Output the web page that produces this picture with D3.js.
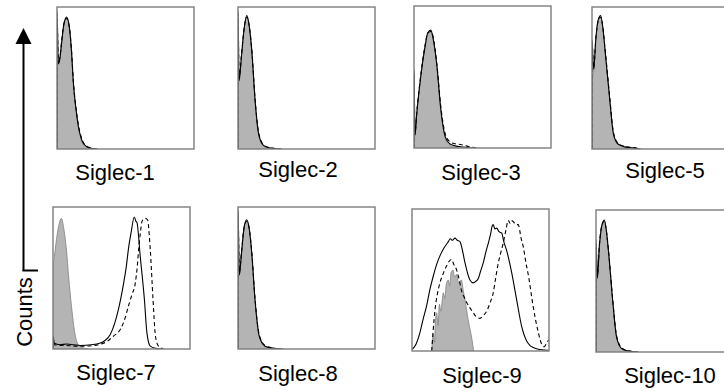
<!DOCTYPE html>
<html>
<head>
<meta charset="utf-8">
<script src="https://cdn.jsdelivr.net/npm/d3@7"></script>
<style>
  body { margin: 0; background: #fff; }
  text { font-family: "Liberation Sans", Arial, sans-serif; }
</style>
</head>
<body>
<div id="container"></div>
<script>
// panel names, in reading order
var labels = ["Siglec-1", "Siglec-2", "Siglec-3", "Siglec-5",
              "Siglec-7", "Siglec-8", "Siglec-9", "Siglec-10"];

// histograms as [fluorescence %, counts % of max]
// isotype control (grey fill)
var isotype = [
  [[0,58],[1,60],[2,64],[3.5,75],[5,87],[7,92],[9,85],[10.5,69],[12,45],[14,26],[15.6,15],[17.5,7],[19.2,3],[22,1],[25,0.3],[29,0]],
  [[0,48],[1,50],[2.5,65],[4.5,85],[6.4,93],[8,87],[10,69],[12.5,33],[15,10],[18,2.5],[22,0.8],[30,0]],
  [[0,52],[0.7,9],[2,24],[4.4,46],[8,71],[10,80],[12.3,82],[14,76],[16.7,57],[19.6,26],[22.8,7],[26,2],[30,0.5],[36,0]],
  [[0,48],[1.2,55],[2.9,78],[4.5,90],[6.3,93],[8,84],[9.5,69],[13,34],[15.6,10],[19,3],[25,1],[33,0]],
  [[0,58],[1,65],[2.5,77],[4.5,88],[6.1,92],[8,84],[9.8,70],[11.5,50],[13.5,30],[16,11],[18.4,3],[22,0.8],[26,0]],
  [[0,51],[1,53],[2.5,66],[4.5,85],[6.3,90],[8,85],[10,68],[12.4,34],[15.5,9],[19.7,2],[24,0.6],[31,0]],
  [[14.4,0],[15.5,12],[16.5,6],[17,20],[18,27],[19,18],[20,33],[21,28],[22.9,41],[24,37],[25,47],[26.5,50],[27.5,46],[28.5,55],[30,57],[31,52],[32.6,54],[34,48],[36,50],[37.5,42],[38.7,36],[41,22],[43.8,8],[45,0]],
  [[0,50],[1,56],[2.5,75],[4.5,89],[6.1,92],[7.5,85],[9,72],[12.2,36],[15,10.5],[18.7,2.4],[23,0.6],[30,0]]
];

// first antibody (solid line)
var solid = [
  [[0,0],[0,97],[1,60],[2,63],[3.5,76],[5,88],[7,93],[9,86],[10.5,70],[12,46],[14,27],[15.6,16],[17.5,8],[19.2,4],[22,1.5],[25,0.5],[29,0]],
  [[0,0],[0,97],[0.8,48],[2.5,65],[4.5,85],[6.4,94],[8,88],[10,70],[12.5,34],[15,11],[18.6,2.5],[22,1],[31,0]],
  [[0,0],[0,55],[0.7,9],[2,24],[4.4,46],[8,71],[10,81],[12.3,83],[14,77],[16.7,58],[19.6,27],[22.8,8],[26,3],[30,1.5],[36,0.7],[43,0]],
  [[0,0],[0,77],[1.2,56],[2.9,79],[4.5,91],[6.3,94],[8,85],[9.5,70],[13,34.5],[15.6,11],[19,3.5],[24,1.5],[30,0.8],[35,0]],
  [[0,0],[0,9],[1,4],[5,3],[10,3.5],[15,3],[20,2.5],[28,3],[34,4],[38,6],[41.7,10],[45,18],[47.8,28],[51.5,46],[53.5,58],[55,70],[57,82],[59.3,93],[60.5,90],[61.3,89],[63.7,65],[66.7,35],[68.6,11],[71,2],[74.7,0.5],[80,0]],
  [[0,0],[0,98],[1,52],[2.5,67],[4.5,86],[6.3,91],[8,86],[10,68],[12.4,35],[15.5,9],[19.7,2],[24,0.8],[32,0]],
  [[0,1],[3,5],[5.8,13],[8,22],[10.7,32],[13,43],[15.6,53],[18,61],[20.4,67],[23,72],[26.5,77],[28,79],[29.5,78],[31.4,79.5],[33,78],[35,77],[37,70],[38.7,62],[40.5,55],[42.3,50],[44.7,48],[46.5,49],[48.4,51],[50,56],[52,62],[54,70],[55.7,76],[57.5,83],[58.5,88],[59.3,89],[60.5,86],[61.8,86.5],[63.5,84],[65.5,83],[67,77],[69,71],[72.8,55],[76.4,36],[80,17.5],[83.7,7],[86,4],[88.5,2.4],[93.4,1],[98,0.5],[100,0.3]],
  [[0,0],[0,79],[1,52],[2.5,75],[4.5,90],[6.1,93],[7.5,86],[9,72],[12.2,36],[15,10.6],[18.7,2.4],[23,0.8],[30,0]]
];

// second antibody (dashed line)
var dashed = [
  [[0,0],[0,95],[1,62],[2,64],[3.5,77],[5,88],[7,92],[9,86],[10.5,71],[12,47],[14,28],[15.6,17],[17.5,9],[19.2,4.5],[22,1.8],[25,0.6],[30,0]],
  [[0,0],[0,95],[0.8,50],[2.5,66],[4.5,85],[6.4,93],[8,88],[10,71],[12.5,35],[15,12],[18.6,3],[22,1.2],[32,0]],
  [[0,0],[0,53],[0.7,10],[2,25],[4.4,47],[8,72],[10,81],[12.3,82],[14,78],[16.7,59],[19.6,29],[22.8,10],[26,4.5],[30,3],[34,2.5],[38,1.5],[43,0.5],[48,0]],
  [[0,0],[0,75],[1.2,57],[2.9,79],[4.5,90],[6.3,93],[8,85],[9.5,71],[13,36],[15.6,12],[19,4],[24,1.8],[30,1],[36,0]],
  [[0,0],[0,7],[1,3],[5,2.5],[10,2.5],[15,2],[22,2],[30,2.5],[35,3.5],[39,5],[44,9],[49,13.6],[52,20],[55,30],[57.5,38],[60,46],[61.5,58],[62.5,70],[63.8,82],[65,90],[67.4,92],[69,91],[71,70],[73,35],[74.8,9],[77,2],[81,0]],
  [[0,0],[0,96],[1,54],[2.5,68],[4.5,86],[6.3,90],[8,86],[10,69],[12.4,36],[15.5,10],[19.7,2.5],[24,1],[33,0]],
  [[14.4,0],[15.5,15],[16.8,29],[18.5,40],[20.4,48],[23,55],[25.3,60],[27,63],[28.9,64.5],[30.5,61],[32.6,57],[34.5,50],[36,43],[38,38],[40,34],[42.5,30],[44.7,27],[47,24],[49.6,23],[52,25],[54.5,28],[57,34],[59.3,41],[61,51],[63,62],[65,70],[66.6,76],[68.5,85],[70.3,92],[71.5,90],[72.5,92],[74,91],[76,89],[77.6,89],[79.5,80],[81.3,73],[83,63],[85,53],[88.5,31],[92.2,13],[94.7,4.7],[96.5,3],[98.5,6],[100,8]],
  [[0,0],[0,77],[1,53],[2.5,76],[4.5,90],[6.1,92],[7.5,86],[9,73],[12.2,37],[15,11.5],[18.7,3],[23,1],[31,0]]
];

// ---- layout (pixels) ----
var panelW = 137, panelH = 142;
var panelLeft = [57, 238, 414, 592, 53, 238, 412, 596];
var panelTop  = [7, 7, 6, 7, 207, 207, 209, 210];
var labelX    = [115, 298, 481, 665, 116, 298, 482, 670];
var labelY    = [180, 177, 180, 178, 380, 381, 383, 383];

var svg = d3.select("#container").append("svg")
            .attr("width", 724)
            .attr("height", 391);

var x = d3.scaleLinear().domain([0, 100]).range([0, panelW]);
var y = d3.scaleLinear().domain([0, 100]).range([panelH, 0]);

var line = d3.line()
             .x(function(d) { return x(d[0]); })
             .y(function(d) { return y(d[1]); })
             .curve(d3.curveMonotoneX);

var area = d3.area()
             .x(function(d) { return x(d[0]); })
             .y0(y(0))
             .y1(function(d) { return y(d[1]); })
             .curve(d3.curveMonotoneX);

labels.forEach(function(name, i) {
  var g = svg.append("g")
             .attr("transform", "translate(" + panelLeft[i] + "," + panelTop[i] + ")");

  g.append("clipPath").attr("id", "clip" + i)
   .append("rect").attr("width", panelW).attr("height", panelH);

  var plot = g.append("g").attr("clip-path", "url(#clip" + i + ")");

  var iso = isotype[i].slice();
  if (iso[0][0] === 0) iso.unshift([0, 0]);
  plot.append("path")
      .datum(iso)
      .attr("d", area)
      .style("fill", "#b4b4b4")
      .style("stroke", "#808080")
      .style("stroke-width", 0.8);

  plot.append("path")
      .datum(dashed[i])
      .attr("d", line)
      .style("fill", "none")
      .style("stroke", "#000")
      .style("stroke-width", 1.1)
      .style("stroke-dasharray", "4,3");

  plot.append("path")
      .datum(solid[i])
      .attr("d", line)
      .style("fill", "none")
      .style("stroke", "#000")
      .style("stroke-width", 1.1);

  g.append("rect")
   .attr("width", panelW)
   .attr("height", panelH)
   .style("fill", "none")
   .style("stroke", "#858585")
   .style("stroke-width", 1.5);

  svg.append("text")
     .attr("x", labelX[i])
     .attr("y", labelY[i])
     .attr("text-anchor", "middle")
     .style("font-size", "22px")
     .attr("fill", "#000")
     .text(name);
});

// Counts axis with arrow
svg.append("line")
   .attr("x1", 23.5).attr("y1", 40)
   .attr("x2", 23.5).attr("y2", 271)
   .style("stroke", "#000").style("stroke-width", 2);
svg.append("line")
   .attr("x1", 22.5).attr("y1", 270.5)
   .attr("x2", 38).attr("y2", 270.5)
   .style("stroke", "#000").style("stroke-width", 2);
svg.append("path")
   .attr("d", "M23.5,28 L31.5,44 L15.5,44 Z")
   .style("fill", "#000");
svg.append("text")
   .attr("transform", "translate(32,312) rotate(-90)")
   .attr("text-anchor", "middle")
   .style("font-size", "22px")
   .attr("fill", "#000")
   .text("Counts");
</script>
</body>
</html>
